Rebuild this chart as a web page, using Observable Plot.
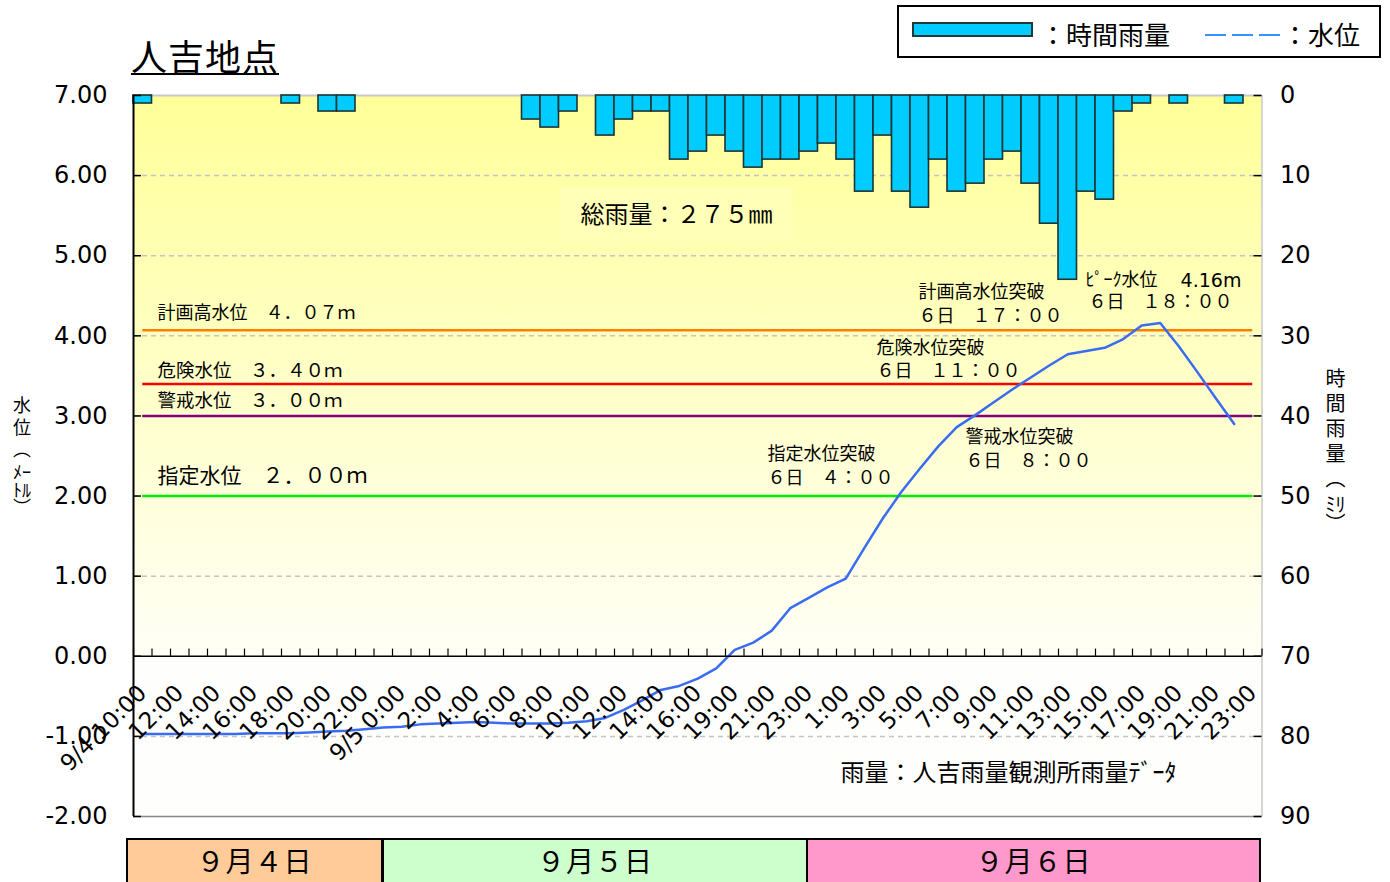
<!DOCTYPE html>
<html>
<head>
<meta charset="utf-8">
<script src="https://cdn.jsdelivr.net/npm/d3@7"></script>
<script src="https://cdn.jsdelivr.net/npm/@observablehq/plot@0.6"></script>
<style>
  body { margin: 0; background: #fff; }
  #wrap { position: relative; width: 1390px; height: 882px; overflow: hidden; font-family: "Noto Sans CJK JP", sans-serif; color: #000; }
  #chart { position: absolute; left: 0; top: 0; }
  .title { position: absolute; left: 131px; top: 37px; font-size: 36px; line-height: 36px; border-bottom: 2px solid #000; letter-spacing: 1px; }
  #legend { position: absolute; left: 897px; top: 5px; width: 480px; height: 49px; border: 2px solid #000; background: #fff; }
  #legend .sw { position: absolute; left: 13px; top: 15px; width: 117px; height: 11px; background: #00ccff; border: 2px solid #203838; }
  #legend .lt { position: absolute; top: 12px; font-size: 26px; line-height: 30px; white-space: nowrap; }
  .vtitle { position: absolute; writing-mode: vertical-rl; white-space: nowrap; }
  .vtitle .c { text-combine-upright: all; }
  .day { position: absolute; top: 838px; height: 44px; box-sizing: border-box; border: 2px solid #000; border-bottom: none; font-size: 28px; line-height: 40px; text-align: center; letter-spacing: 1px; }
</style>
</head>
<body>
<div id="wrap">
  <div id="chart"></div>
  <div class="title">人吉地点</div>
  <div id="legend">
    <div class="sw"></div>
    <div class="lt" style="left:141px">：時間雨量</div>
    <svg style="position:absolute;left:306px;top:26px" width="76" height="4"><line x1="0" y1="2" x2="76" y2="2" stroke="#3a8fff" stroke-width="2" stroke-dasharray="21 6"/></svg>
    <div class="lt" style="left:383px">：水位</div>
  </div>
  <div class="vtitle" style="left:9px;top:396px;font-size:18px;letter-spacing:4px;">水位（<span class="c">ﾒｰ</span><span class="c">ﾄﾙ</span>）</div>
  <div class="vtitle" style="left:1321px;top:368px;font-size:20px;letter-spacing:5px;">時間雨量（<span class="c">ﾐﾘ</span>）</div>
  <div id="days"></div>
</div>
<script>
// ---- data ----
const hours = [
  "9/4 10:00","9/4 11:00","9/4 12:00","9/4 13:00","9/4 14:00","9/4 15:00","9/4 16:00","9/4 17:00","9/4 18:00","9/4 19:00","9/4 20:00","9/4 21:00","9/4 22:00","9/4 23:00",
  "9/5 0:00","9/5 1:00","9/5 2:00","9/5 3:00","9/5 4:00","9/5 5:00","9/5 6:00","9/5 7:00","9/5 8:00","9/5 9:00","9/5 10:00","9/5 11:00","9/5 12:00","9/5 13:00","9/5 14:00","9/5 15:00","9/5 16:00","9/5 18:00","9/5 19:00","9/5 20:00","9/5 21:00","9/5 22:00","9/5 23:00",
  "9/6 0:00","9/6 1:00","9/6 2:00","9/6 3:00","9/6 4:00","9/6 5:00","9/6 6:00","9/6 7:00","9/6 8:00","9/6 9:00","9/6 10:00","9/6 11:00","9/6 12:00","9/6 13:00","9/6 14:00","9/6 15:00","9/6 16:00","9/6 17:00","9/6 18:00","9/6 19:00","9/6 20:00","9/6 21:00","9/6 22:00","9/6 23:00"
];
const rain = [
  1,0,0,0,0,0,0,0,1,0,2,2,0,0,
  0,0,0,0,0,0,0,3,4,2,0,5,3,2,2,8,7,5,7,9,8,8,7,
  6,8,12,5,12,14,8,12,11,8,7,11,16,23,12,13,2,1,0,1,0,0,1,0
];
const level = [
  -0.97,-0.97,-0.97,-0.97,-0.97,-0.97,-0.96,-0.96,-0.96,-0.95,-0.94,-0.93,-0.91,-0.89,
  -0.88,-0.85,-0.84,-0.83,-0.82,-0.83,-0.84,-0.84,-0.84,-0.83,-0.81,-0.77,-0.67,-0.55,-0.42,-0.37,-0.28,-0.15,0.08,0.17,0.32,0.60,0.73,
  0.86,0.97,1.35,1.72,2.05,2.34,2.62,2.86,3.01,3.17,3.33,3.48,3.63,3.77,3.81,3.85,3.96,4.13,4.16,3.87,3.55,3.22,2.90,null
];
const tickLabels = [
  "9/4 10:00","12:00","14:00","16:00","18:00","20:00","22:00",
  "9/5 0:00","2:00","4:00","6:00","8:00","10:00","12:00","14:00","16:00","19:00","21:00","23:00",
  "1:00","3:00","5:00","7:00","9:00","11:00","13:00","15:00","17:00","19:00","21:00","23:00"
];
const levelTicks = [-2,-1,0,1,2,3,4,5,6,7];
const rainTicks = [0,10,20,30,40,50,60,70,80,90];
const thresholds = [
  {name:"計画高水位", value:4.07, color:"#ff8000"},
  {name:"危険水位", value:3.40, color:"#ff0000"},
  {name:"警戒水位", value:3.00, color:"#800080"},
  {name:"指定水位", value:2.00, color:"#00ee00"}
];
const days = [
  {label:"９月４日", color:"#ffcc99"},
  {label:"９月５日", color:"#ccffcc"},
  {label:"９月６日", color:"#ff99cc"}
];
const totalRain = 275;
const peakLevel = 4.16;

// ---- build ----
const rows = hours.map((h, i) => ({i, h, rain: rain[i], level: level[i]}));
const rainToY = r => 7 - r / 10;   // right axis 0..90 mm mapped onto 7..-2 m
const jp = "'Noto Sans CJK JP', sans-serif";
const fw = s => String(s).replace(/[0-9]/g, c => String.fromCharCode(c.charCodeAt(0) + 0xFEE0));

const notes = [
  {t:"計画高水位　４．０７ｍ", x:1.3, y:4.28, s:18},
  {t:"危険水位　３．４０ｍ", x:1.3, y:3.56, s:18.5},
  {t:"警戒水位　３．００ｍ", x:1.3, y:3.19, s:18.5},
  {t:"指定水位　２．００ｍ", x:1.3, y:2.25, s:21},
  {t:"計画高水位突破", x:42.43, y:4.54, s:18},
  {t:"６日　１７：００", x:42.43, y:4.24, s:18},
  {t:"ﾋﾟｰｸ水位", x:51.46, y:4.69, s:18},
  {t:"６日　１８：００", x:51.62, y:4.42, s:18},
  {t:"危険水位突破", x:40.16, y:3.85, s:18},
  {t:"６日　１１：００", x:40.16, y:3.56, s:18},
  {t:"警戒水位突破", x:44.97, y:2.73, s:18},
  {t:"６日　８：００", x:44.97, y:2.43, s:18},
  {t:"指定水位突破", x:34.27, y:2.52, s:18},
  {t:"６日　４：００", x:34.27, y:2.22, s:18},
  {t:"雨量：人吉雨量観測所雨量ﾃﾞｰﾀ", x:38.22, y:-1.46, s:24},
  {t:"総雨量：" + fw(totalRain) + "㎜", x:24.16, y:5.50, s:24}
];

const n = hours.length;
const chart = Plot.plot({
  width: 1390,
  height: 830,
  marginLeft: 133,
  marginRight: 128.5,
  marginTop: 95,
  marginBottom: 14,
  x: {domain: [0, n], axis: null},
  y: {domain: [-2, 7]},
  style: {fontFamily: "'DejaVu Sans', sans-serif", background: "transparent", color: "#000", overflow: "visible"},
  marks: [
    // backgrounds
    Plot.rect([0], {x1: 0, x2: n, y1: 0, y2: 7, fill: "url(#bgGrad)"}),
    Plot.rect([0], {x1: 0, x2: n, y1: -2, y2: 0, fill: "#fefefc"}),
    Plot.rect([0], {x1: 23.1, x2: 35.6, y1: 5.17, y2: 5.85, fill: "#ffffb8"}),
    // grid
    Plot.ruleY(levelTicks.filter(v => v !== 0 && v !== 7 && v !== -2), {x1: 0, x2: n, stroke: "#c4c4c4", strokeWidth: 1.5, strokeDasharray: "5,4"}),
    Plot.ruleY([7], {x1: 0, x2: n, stroke: "#c8c8c8", strokeWidth: 2}),
    Plot.ruleY([-2], {x1: 0, x2: n, stroke: "#888", strokeWidth: 1.5}),
    Plot.ruleX([n], {y1: -2, y2: 7, stroke: "#c8c8c8", strokeWidth: 1.5}),
    // thresholds
    Plot.ruleY(thresholds, {y: "value", x1: 0.5, x2: n - 0.5, stroke: "color", strokeWidth: 2.5}),
    // rain bars
    Plot.rect(rows.filter(d => d.rain > 0), {x1: "i", x2: d => d.i + 1, y1: 7, y2: d => rainToY(d.rain), fill: "#00ccff", stroke: "#1c3434", strokeWidth: 1.6}),
    // water level
    Plot.line(rows.filter(d => d.level != null), {x: d => d.i + 0.5, y: "level", stroke: "#3a6cf2", strokeWidth: 2.5}),
    // zero line with hour ticks
    Plot.ruleY([0], {x1: 0, x2: n, stroke: "#000", strokeWidth: 1.5}),
    Plot.ruleX(d3.range(n + 1), {x: d => d, y1: 0, y2: 0.09, stroke: "#000", strokeWidth: 1.2}),
    // left axis line & ticks
    Plot.ruleX([0], {y1: -2, y2: 7, stroke: "#000", strokeWidth: 2}),
    Plot.ruleY(levelTicks, {x1: 0, x2: 0.43, stroke: "#000", strokeWidth: 1.5}),
    Plot.ruleY(rainTicks.map(rainToY), {x1: n - 0.43, x2: n, stroke: "#000", strokeWidth: 1.5}),
    // rotated hour labels
    Plot.text(tickLabels, {x: (d, i) => i * 2 + 0.5, y: -0.41, text: d => d, rotate: -45, textAnchor: "end", fontSize: 23}),
    // annotations
    Plot.text(notes, {x: "x", y: "y", text: "t", fontSize: d => d.s, textAnchor: "start", fontFamily: jp}),
    Plot.text([peakLevel], {x: 56.6, y: 4.69, text: d => d.toFixed(2) + "m", fontSize: 19, textAnchor: "start"}),
    // axes
    Plot.axisY({anchor: "left", ticks: levelTicks, tickFormat: v => v.toFixed(2), tickSize: 0, tickPadding: 26, fontSize: 24, label: null}),
    Plot.axisY({anchor: "right", ticks: rainTicks.map(rainToY), tickFormat: v => String(Math.round((7 - v) * 10)), tickSize: 0, tickPadding: 18, fontSize: 24, label: null})
  ]
});

const defs = d3.select(chart).insert("defs", ":first-child");
const grad = defs.append("linearGradient").attr("id", "bgGrad").attr("x1", 0).attr("y1", 0).attr("x2", 0).attr("y2", 1);
grad.append("stop").attr("offset", "0%").attr("stop-color", "#ffff99");
grad.append("stop").attr("offset", "55%").attr("stop-color", "#ffffcc");
grad.append("stop").attr("offset", "100%").attr("stop-color", "#fffff6");

document.getElementById("chart").appendChild(chart);

// day boxes below the chart
const dayBoxes = [[126, 257], [382, 426], [806, 455]];
const dayDiv = document.getElementById("days");
days.forEach((d, i) => {
  const el = document.createElement("div");
  el.className = "day";
  el.style.left = dayBoxes[i][0] + "px";
  el.style.width = dayBoxes[i][1] + "px";
  el.style.background = d.color;
  el.textContent = d.label;
  dayDiv.appendChild(el);
});
</script>
</body>
</html>
